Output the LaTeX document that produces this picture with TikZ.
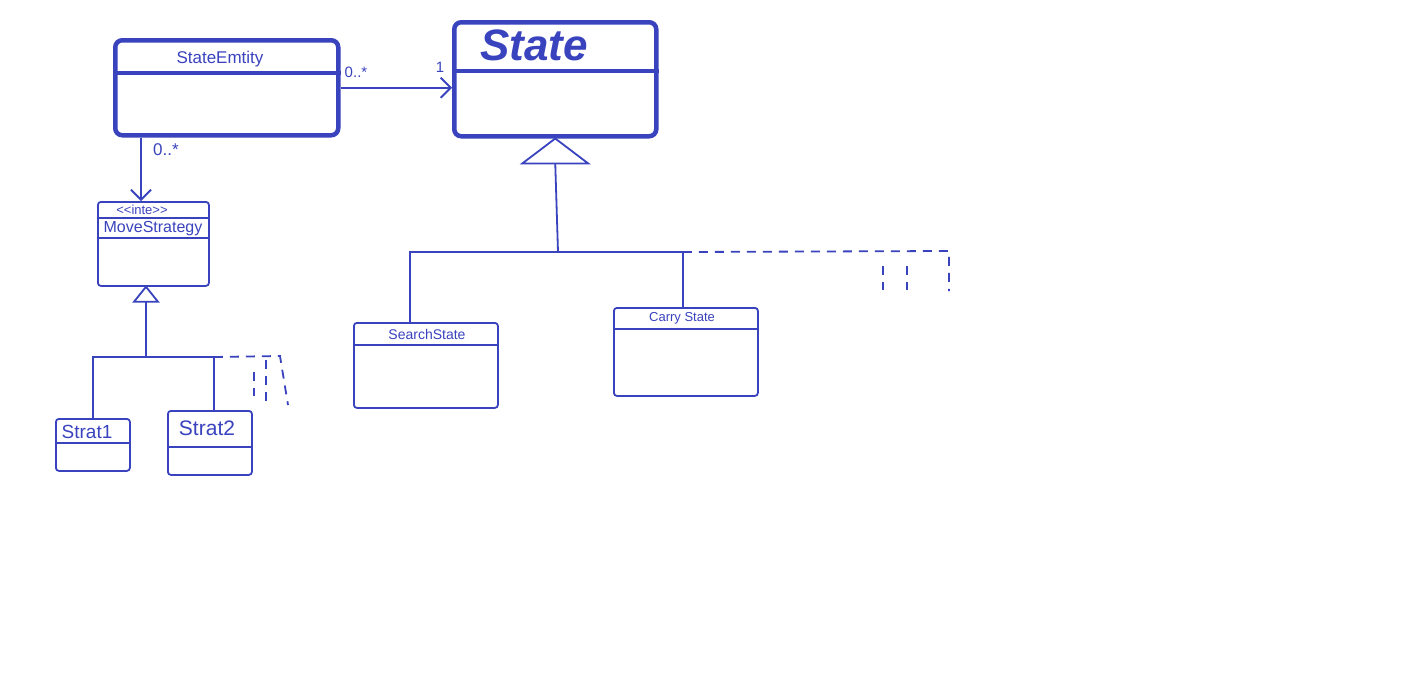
\documentclass[tikz,border=0pt]{standalone}
\usepackage{fontspec}
\setmainfont{Liberation Sans}
\usepackage{tikz}
\usetikzlibrary{arrows.meta, positioning, calc}
\usepackage{xcolor}
\definecolor{penblue}{HTML}{3A43BE}

\tikzset{
  cls/.style={draw=penblue, line width=1.8pt, rounded corners=3pt, anchor=north west, inner sep=0pt},
  bigcls/.style={cls, line width=4.5pt, rounded corners=7pt},
  lbl/.style={text=penblue, font=\fontsize{15}{15}\selectfont, inner sep=1pt},
  link/.style={draw=penblue, line width=1.8pt},
  assoc/.style={link, -{Straight Barb[length=10pt, width=20pt, line width=1.8pt]}},
  more/.style={link, dash pattern=on 9pt off 7pt},
}

\begin{document}
\begin{tikzpicture}[x=1pt, y=-1pt]
        \useasboundingbox[fill=white] (0,0) rectangle (1416,672);
        % Klassen
        \node[bigcls, minimum width=223pt, minimum height=95pt] (entity) at (113,38) {};
        \node[bigcls, minimum width=202pt, minimum height=114pt] (state) at (452,20) {};
        \node[cls, minimum width=111pt, minimum height=84pt] (move) at (97,201) {};
        \node[cls, minimum width=74pt, minimum height=52pt] (strat1) at (55,418) {};
        \node[cls, minimum width=84pt, minimum height=64pt] (strat2) at (167,410) {};
        \node[cls, minimum width=144pt, minimum height=85pt] (search) at (353,322) {};
        \node[cls, minimum width=144pt, minimum height=88pt] (carry) at (613,307) {};
        \draw[penblue, line width=4.5pt] ([yshift=-35pt]entity.north west) -- ([yshift=-35pt]entity.north east);
        \draw[penblue, line width=4pt] ([yshift=-51pt]state.north west) -- ([yshift=-51pt]state.north east);
        \foreach \n/\d in {move/17, move/37, strat1/25, strat2/37, search/23, carry/22}{
          \draw[link] ([yshift=-\d pt]\n.north west) -- ([yshift=-\d pt]\n.north east);
        }
        % Namen
        \node[lbl, font=\fontsize{17}{17}\selectfont] (entityname) at (220,59) {StateEmtity};
        \node[lbl, font=\fontsize{44}{44}\selectfont\bfseries\itshape] (statename) at (534,45) {State};
        \node[lbl, font=\fontsize{13}{13}\selectfont] (movestereo) at (142,210) {{<}{<}inte{>}{>}};
        \node[lbl, font=\fontsize{16}{16}\selectfont] (movename) at (153,229) {MoveStrategy};
        \node[lbl, font=\fontsize{19}{19}\selectfont] (strat1name) at (87,432) {Strat1};
        \node[lbl, font=\fontsize{21}{21}\selectfont] (strat2name) at (207,428) {Strat2};
        \node[lbl, font=\fontsize{14}{14}\selectfont] (searchname) at (427,334) {SearchState};
        \node[lbl, font=\fontsize{13}{13}\selectfont] (carryname) at (682,318) {Carry State};
        % Assoziationen
        \draw[assoc] (entity.east) -- (entity.east -| state.west);
        \node[lbl] (manyA) at (356,72) {0..*};
        \node[lbl] (oneA) at (440,67) {1};
        \coordinate (entityfoot) at ([xshift=28pt]entity.south west);
        \draw[assoc] (entityfoot) -- (entityfoot |- move.north);
        \node[lbl, font=\fontsize{17}{17}\selectfont] (manyB) at (166,150) {0..*};
        % Vererbung MoveStrategy
        \coordinate (moveTip) at ([xshift=49pt]move.south west);
        \coordinate (moveBase) at ($(moveTip)+(0,15)$);
        \coordinate (moveJoin) at (146,357);
        \draw[link, fill=white] (moveTip) -- ++(12,15) -- ++(-24,0) -- cycle;
        \draw[link] (moveBase) -- (moveJoin);
        \draw[link] (strat1.north) |- (moveJoin) -| ([xshift=4pt]strat2.north);
        \coordinate (moveEnd) at (280,356);
        \draw[more] ([xshift=4pt]strat2.north |- moveJoin) -- (moveEnd) -- ++(8,49);
        \draw[more] (254,372) -- (254,396);
        \draw[more] (266,360) -- (266,402);
        % Vererbung State
        \coordinate (stateTip) at (state.south);
        \coordinate (stateBase) at ($(stateTip)+(0,25)$);
        \coordinate (stateJoin) at (558,252);
        \draw[link, fill=white] (stateTip) -- ++(33,25) -- ++(-66,0) -- cycle;
        \draw[link] (stateBase) -- (stateJoin);
        \draw[link] ([xshift=-16pt]search.north) |- (stateJoin) -| ([xshift=-3pt]carry.north);
        \coordinate (stateEnd) at (949,251);
        \draw[more] ([xshift=-3pt]carry.north |- stateJoin) -- (stateEnd) -- ++(0,40);
        \draw[more] (883,266) -- (883,290);
        \draw[more] (907,266) -- (907,290);
      \end{tikzpicture}
\end{document}
